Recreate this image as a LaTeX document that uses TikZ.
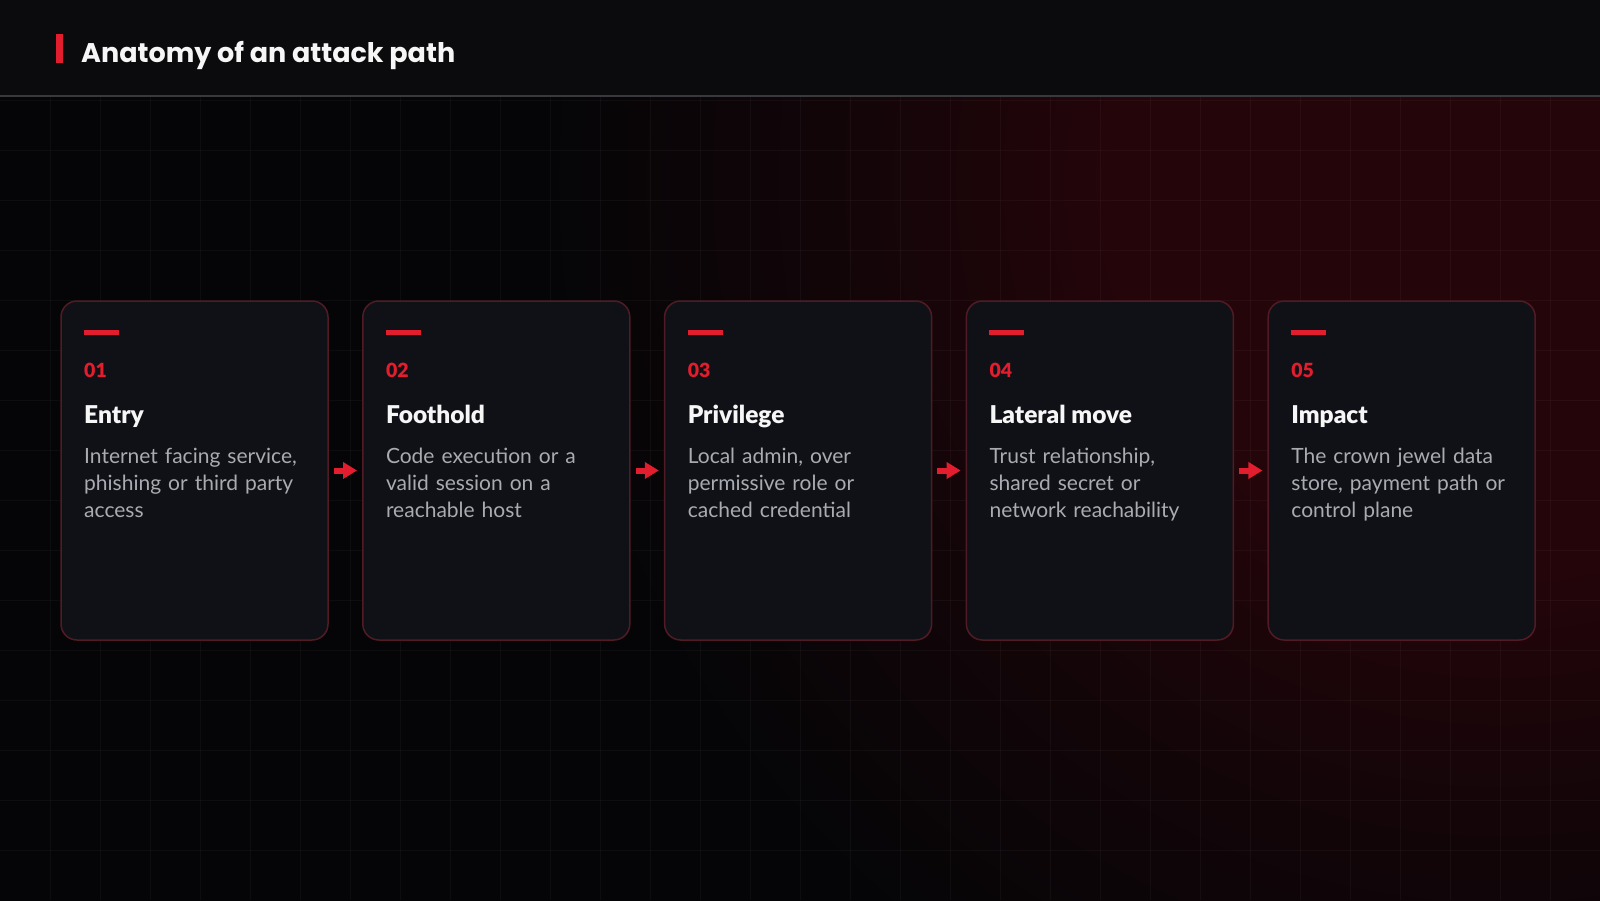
\documentclass[tikz,border=0pt]{standalone}
\usepackage{fontspec}
\setmainfont{Lato}
\newfontfamily\titlefont{Poppins}
\IfFontExistsTF{Lato Black}{\newfontfamily\headfont{Lato Black}}{\newfontfamily\headfont{Lato}[UprightFont=*-Bold]}
\usetikzlibrary{arrows.meta}
\definecolor{bgc}{HTML}{050507}
\definecolor{headbg}{HTML}{0B0B0E}
\definecolor{headline}{HTML}{38383D}
\definecolor{glowc}{HTML}{24050A}
\definecolor{cardc}{HTML}{101116}
\definecolor{cardborder}{HTML}{501B24}
\definecolor{accent}{HTML}{E11D2E}
\definecolor{headc}{HTML}{F6F6F7}
\definecolor{bodyc}{HTML}{A9ABB2}
\pgfdeclareradialshading{glowshade}{\pgfpoint{0bp}{0bp}}{color(0bp)=(glowc); color(5.6bp)=(glowc); color(9.5bp)=(glowc!45!bgc); color(14bp)=(bgc); color(50bp)=(bgc)}
\tikzset{
  cardbox/.style={rectangle, draw=cardborder, line width=1.5pt, fill=cardc, rounded corners=16pt, minimum width=267pt, minimum height=339pt, inner sep=0pt},
  numtext/.style={anchor=base west, inner sep=0pt, text=accent, font=\headfont\fontsize{19.5}{22}\selectfont},
  headtext/.style={anchor=base west, inner sep=0pt, text=headc, font=\headfont\fontsize{24.5}{30}\selectfont},
  bodytext/.style={anchor=base west, inner sep=0pt, text=bodyc, font=\fontsize{21}{27}\selectfont, text width=255pt, align=left},
  titletext/.style={anchor=base west, inner sep=0pt, text=headc, font=\titlefont\bfseries\fontsize{27}{32}\selectfont},
  flow/.style={draw=accent, line width=6pt, -{Triangle[length=14pt,width=16pt]}, shorten <=5pt, shorten >=5pt},
  gridline/.style={draw=white, opacity=0.035, line width=1pt},
}
\begin{document}
\begin{tikzpicture}[x=1pt, y=-1pt]
\useasboundingbox (0,0) rectangle (1600,900);
% background
\fill[bgc] (0,0) rectangle (1600,900);
\begin{scope}
  \clip (0,96) rectangle (1600,900);
  \shade[shading=glowshade] (1500,180) circle [radius=1700];
\end{scope}
% grid
\foreach \gx in {50,100,...,1550} \draw[gridline] (\gx,97) -- (\gx,900);
\foreach \gy in {100,150,...,850} \draw[gridline] (0,\gy) -- (1600,\gy);
% header
\fill[headbg] (0,0) rectangle (1600,96);
\draw[headline, line width=2pt] (0,96) -- (1600,96);
\fill[accent] (56,34) rectangle (63,63);
\node[titletext] (title) at (81,62) {Anatomy of an attack path};
% cards
\foreach \i/\num/\head/\body in {
  1/01/Entry/{Internet facing service,\\phishing or third party\\access},
  2/02/Foothold/{Code execution or a\\valid session on a\\reachable host},
  3/03/Privilege/{Local admin, over\\permissive role or\\cached credential},
  4/04/Lateral move/{Trust relationship,\\shared secret or\\network reachability},
  5/05/Impact/{The crown jewel data\\store, payment path or\\control plane}} {
  \pgfmathsetmacro\L{61+(\i-1)*301.8}
  \node[cardbox] (c\i) at ({\L+133.5},470.5) {};
  \fill[accent] ({\L+23},330) rectangle ({\L+58},335);
  \node[numtext] (n\i) at ({\L+23},377) {\num};
  \node[headtext] (h\i) at ({\L+23},423) {\head};
  \node[bodytext] (b\i) at ({\L+23},463) {\body};
}
\foreach \a/\b in {1/2,2/3,3/4,4/5} \draw[flow] (c\a) -- (c\b);
\end{tikzpicture}
\end{document}
